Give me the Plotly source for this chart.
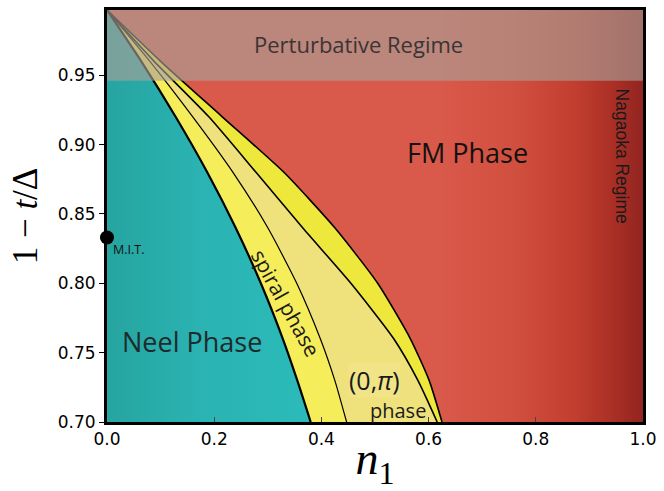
import numpy as np
import plotly.graph_objects as go

# ---------------- data ----------------
Y_TOP = 0.997          # top of the diagram / convergence point of the boundaries
Y_BOTTOM = 0.70
PERT_LOW = 0.946       # lower edge of the perturbative regime band

# common 1-t/Delta levels at which the phase boundaries were read
bound_y = [0.997, 0.96, 0.92, 0.88, 0.84, 0.80, 0.76, 0.73, 0.70]
# n1 of each boundary at those levels
neel_n   = [0.0, 0.064, 0.128, 0.187, 0.240, 0.287, 0.328, 0.355, 0.380]   # Neel | spiral
spiral_n = [0.0, 0.080, 0.160, 0.235, 0.300, 0.354, 0.398, 0.425, 0.447]   # spiral | (0,pi)
zpi_n    = [0.0, 0.088, 0.190, 0.278, 0.365, 0.455, 0.535, 0.580, 0.616]   # (0,pi) | yellow
fm_n     = [0.0, 0.100, 0.215, 0.330, 0.425, 0.505, 0.566, 0.601, 0.625]   # yellow | FM

mit_n = [0.0]
mit_y = [0.833]

x_ticks = [0.0, 0.2, 0.4, 0.6, 0.8, 1.0]
y_ticks = [0.70, 0.75, 0.80, 0.85, 0.90, 0.95]

# ---------------- figure ----------------
fig = go.Figure()

# FM background gradient (darkening toward n1 = 1)
gx = np.linspace(0, 1, 201)
fig.add_trace(go.Heatmap(
    x=gx, y=[Y_BOTTOM, Y_TOP], z=[gx, gx],
    colorscale=[[0, '#d9594a'], [0.62, '#d9594a'], [0.76, '#d14f3f'],
                [0.87, '#c23f2f'], [0.94, '#ab3026'], [1.0, '#922420']],
    showscale=False, hoverinfo='skip', zsmooth='best'))


def region(left_n, right_n, color, grad=None):
    """closed polygon between two boundaries (left_n None = the n1=0 axis)."""
    if left_n is None:
        xs = list(right_n) + [0.0, 0.0]
        ys = list(bound_y) + [Y_BOTTOM, Y_TOP]
    else:
        xs = list(right_n) + list(left_n)[::-1]
        ys = list(bound_y) + list(bound_y)[::-1]
    kw = {}
    if grad is not None:
        kw['fillgradient'] = grad
    fig.add_trace(go.Scatter(x=xs, y=ys, mode='lines', fill='toself',
                             fillcolor=color, line=dict(width=0.6, color=color),
                             hoverinfo='skip', showlegend=False, **kw))


region(None, neel_n, '#2ab3b2',
       grad=dict(type='horizontal',
                 colorscale=[[0, '#26a4a0'], [0.45, '#2ab3b2'], [1, '#2bbbba']]))  # Neel
region(neel_n, spiral_n, '#f6ed5a')    # spiral phase
region(spiral_n, zpi_n, '#efe27c')     # (0,pi) phase
region(zpi_n, fm_n, '#efe83c')         # outer yellow sliver


def boundary(xs, width):
    fig.add_trace(go.Scatter(
        x=xs, y=bound_y, mode='lines',
        line=dict(color='black', width=width, shape='spline', smoothing=0.6),
        hoverinfo='skip', showlegend=False))


boundary(neel_n, 2.2)
boundary(spiral_n, 1.2)
boundary(zpi_n, 1.6)
boundary(fm_n, 1.6)

# perturbative regime overlay
fig.add_trace(go.Scatter(
    x=[0, 1, 1, 0, 0], y=[PERT_LOW, PERT_LOW, Y_TOP, Y_TOP, PERT_LOW],
    mode='lines', fill='toself', fillcolor='rgba(170,160,152,0.63)',
    line=dict(width=0), hoverinfo='skip', showlegend=False))

# M.I.T. point
fig.add_trace(go.Scatter(x=mit_n, y=mit_y, mode='markers',
                         marker=dict(size=14, color='black'),
                         cliponaxis=False, hoverinfo='skip', showlegend=False))

ann_font = 'Open Sans, sans-serif'
annotations = [
    dict(x=0.4686, y=0.9726, text='Perturbative Regime', font=dict(size=22, color='#3a3535', family=ann_font)),
    dict(x=0.673, y=0.8945, text='FM Phase', font=dict(size=27, color='#111111', family=ann_font)),
    dict(x=0.961, y=0.892, text='Nagaoka Regime', textangle=90,
         font=dict(size=17.5, color='#1a1a1a', family='Liberation Sans, sans-serif')),
    dict(x=0.158, y=0.758, text='Neel Phase', font=dict(size=27, color='#1f2b2b', family=ann_font)),
    dict(x=0.334, y=0.786, text='spiral phase', textangle=61, font=dict(size=21, color='#1a1a1a', family=ann_font)),
    dict(x=0.499, y=0.730, text='(0,<i>π</i>)', font=dict(size=25, color='#1a1a1a', family=ann_font),
         bgcolor='rgba(242,230,140,0.7)', borderpad=0),
    dict(x=0.543, y=0.7085, text='phase', font=dict(size=20, color='#1a1a1a', family=ann_font)),
    dict(x=0.0407, y=0.824, text='M.I.T.', font=dict(size=12.5, color='#111111', family=ann_font)),
]
for a in annotations:
    a.update(xref='x', yref='y', showarrow=False)
fig.update_layout(annotations=annotations)

fig.update_layout(
    width=664, height=491,
    margin=dict(l=107, r=16, t=7, b=66),
    paper_bgcolor='white', plot_bgcolor='white',
    showlegend=False,
    font=dict(family='DejaVu Sans', size=17, color='black'),
)
fig.update_xaxes(range=[0, 1], tickvals=x_ticks, tickformat='.1f',
                 ticks='inside', ticklen=5, tickcolor='#444',
                 showline=True, linewidth=3, linecolor='black', mirror=True,
                 showgrid=False, zeroline=False,
                 title=dict(text='<i>n</i><sub>1</sub>', standoff=2,
                            font=dict(family='Liberation Serif', size=46)))
fig.update_yaxes(range=[Y_BOTTOM, Y_TOP], tickvals=y_ticks, tickformat='.2f',
                 ticks='outside', ticklen=5, tickcolor='black',
                 showline=True, linewidth=3, linecolor='black', mirror=True,
                 showgrid=False, zeroline=False,
                 title=dict(text='1 − <i>t</i>/Δ', standoff=10,
                            font=dict(family='Liberation Serif', size=35)))

fig.write_html('out.html')
